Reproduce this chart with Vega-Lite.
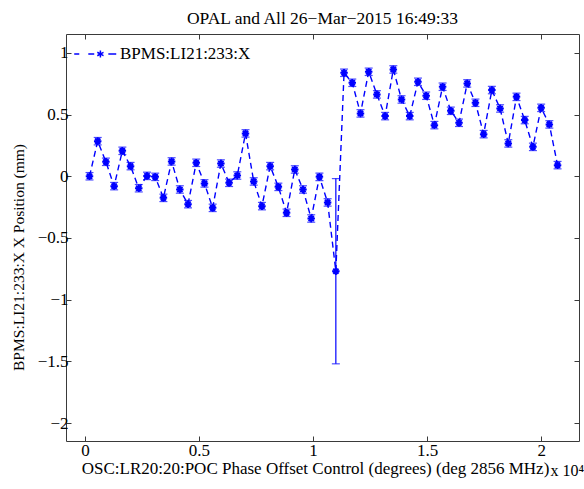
{
  "$schema": "https://vega.github.io/schema/vega-lite/v6.json",
  "width": 513,
  "height": 407,
  "autosize": {"type": "none"},
  "padding": {"left": 66, "top": 34, "right": 5, "bottom": 48},
  "background": "#ffffff",
  "title": {"text": "OPAL and All 26−Mar−2015 16:49:33", "font": "Liberation Serif", "fontSize": 17.5, "fontWeight": "normal", "color": "#000000", "offset": 4, "anchor": "middle"},
  "config": {
    "view": {"stroke": "#3a3a3a", "strokeWidth": 1},
    "axis": {"grid": false, "domain": false, "tickColor": "#3a3a3a", "tickSize": -5, "labelFont": "Liberation Serif", "labelFontSize": 17, "labelColor": "#000000", "titleFont": "Liberation Serif", "titleFontSize": 17, "titleFontWeight": "normal", "titleColor": "#000000"}
  },
  "data": {"values": [
    {"phase": 200, "pos": 0.0, "err": 0.03},
    {"phase": 560, "pos": 0.284, "err": 0.03},
    {"phase": 920, "pos": 0.117, "err": 0.03},
    {"phase": 1280, "pos": -0.08, "err": 0.03},
    {"phase": 1640, "pos": 0.206, "err": 0.03},
    {"phase": 2000, "pos": 0.082, "err": 0.03},
    {"phase": 2360, "pos": -0.097, "err": 0.03},
    {"phase": 2720, "pos": 0.003, "err": 0.03},
    {"phase": 3080, "pos": -0.005, "err": 0.03},
    {"phase": 3440, "pos": -0.175, "err": 0.03},
    {"phase": 3800, "pos": 0.12, "err": 0.03},
    {"phase": 4160, "pos": -0.107, "err": 0.03},
    {"phase": 4520, "pos": -0.226, "err": 0.03},
    {"phase": 4880, "pos": 0.109, "err": 0.03},
    {"phase": 5240, "pos": -0.058, "err": 0.03},
    {"phase": 5600, "pos": -0.256, "err": 0.03},
    {"phase": 5960, "pos": 0.103, "err": 0.03},
    {"phase": 6320, "pos": -0.053, "err": 0.03},
    {"phase": 6680, "pos": 0.006, "err": 0.03},
    {"phase": 7040, "pos": 0.347, "err": 0.03},
    {"phase": 7400, "pos": -0.042, "err": 0.03},
    {"phase": 7760, "pos": -0.242, "err": 0.03},
    {"phase": 8120, "pos": 0.082, "err": 0.03},
    {"phase": 8480, "pos": -0.086, "err": 0.03},
    {"phase": 8840, "pos": -0.296, "err": 0.03},
    {"phase": 9200, "pos": 0.055, "err": 0.03},
    {"phase": 9560, "pos": -0.107, "err": 0.03},
    {"phase": 9920, "pos": -0.342, "err": 0.03},
    {"phase": 10280, "pos": -0.005, "err": 0.03},
    {"phase": 10640, "pos": -0.212, "err": 0.03},
    {"phase": 11000, "pos": -0.769, "err": 0.75},
    {"phase": 11360, "pos": 0.838, "err": 0.03},
    {"phase": 11720, "pos": 0.757, "err": 0.03},
    {"phase": 12080, "pos": 0.509, "err": 0.03},
    {"phase": 12440, "pos": 0.846, "err": 0.03},
    {"phase": 12800, "pos": 0.663, "err": 0.03},
    {"phase": 13160, "pos": 0.487, "err": 0.03},
    {"phase": 13520, "pos": 0.865, "err": 0.03},
    {"phase": 13880, "pos": 0.622, "err": 0.03},
    {"phase": 14240, "pos": 0.487, "err": 0.03},
    {"phase": 14600, "pos": 0.765, "err": 0.03},
    {"phase": 14960, "pos": 0.652, "err": 0.03},
    {"phase": 15320, "pos": 0.414, "err": 0.03},
    {"phase": 15680, "pos": 0.725, "err": 0.03},
    {"phase": 16040, "pos": 0.53, "err": 0.03},
    {"phase": 16400, "pos": 0.433, "err": 0.03},
    {"phase": 16760, "pos": 0.752, "err": 0.03},
    {"phase": 17120, "pos": 0.595, "err": 0.03},
    {"phase": 17480, "pos": 0.341, "err": 0.03},
    {"phase": 17840, "pos": 0.698, "err": 0.03},
    {"phase": 18200, "pos": 0.549, "err": 0.03},
    {"phase": 18560, "pos": 0.266, "err": 0.03},
    {"phase": 18920, "pos": 0.643, "err": 0.03},
    {"phase": 19280, "pos": 0.455, "err": 0.03},
    {"phase": 19640, "pos": 0.238, "err": 0.03},
    {"phase": 20000, "pos": 0.554, "err": 0.03},
    {"phase": 20360, "pos": 0.42, "err": 0.03},
    {"phase": 20720, "pos": 0.09, "err": 0.03}
  ]},
  "resolve": {"axis": {"x": "independent", "y": "independent"}},
  "layer": [
    {
      "mark": {"type": "line", "strokeDash": [6, 4], "strokeWidth": 1.4, "color": "#0000ff"},
      "encoding": {
        "x": {"field": "phase", "type": "quantitative", "scale": {"domain": [-830, 21660], "nice": false, "zero": false},
              "axis": {"orient": "bottom", "values": [0, 5000, 10000, 15000, 20000], "labelExpr": "format(datum.value/10000, '~g')", "labelBaseline": "alphabetic", "labelPadding": 19, "title": "OSC:LR20:20:POC Phase Offset Control (degrees) (deg 2856 MHz)", "titleBaseline": "alphabetic", "titleX": 249, "titleY": 32, "titleAlign": "center"}},
        "y": {"field": "pos", "type": "quantitative", "scale": {"domain": [-2.144, 1.152], "nice": false, "zero": false},
              "axis": {"orient": "left", "values": [-2, -1.5, -1, -0.5, 0, 0.5, 1], "format": "~g", "labelPadding": 3, "title": "BPMS:LI21:233:X X Position (mm)", "titleFontSize": 15.5, "titleBaseline": "middle", "titleAlign": "center", "titleAngle": -90, "titleX": -48, "titleY": 223}},
        "color": {"datum": "BPMS:LI21:233:X", "type": "nominal", "scale": {"range": ["#0000ff"]},
                  "legend": {"orient": "none", "legendX": 7, "legendY": -3, "title": null, "padding": 0,
                             "symbolType": "M-0.99,0H-0.76M-0.35,0H-0.08M0.2,-0.16V0.16M0.06,-0.08L0.34,0.08M0.06,0.08L0.34,-0.08M0.56,0H0.92",
                             "symbolSize": 1936, "symbolStrokeWidth": 1.5, "symbolStrokeColor": "#0000ff", "symbolFillColor": "transparent", "symbolDash": [1, 0],
                             "labelFont": "Liberation Serif", "labelFontSize": 17, "labelColor": "#000000", "labelOffset": 1}}
      }
    },
    {
      "mark": {"type": "errorbar", "ticks": {"size": 8}, "color": "#0000ff", "thickness": 1.2},
      "encoding": {
        "x": {"field": "phase", "type": "quantitative", "axis": null},
        "y": {"field": "pos", "type": "quantitative", "axis": null},
        "yError": {"field": "err"}
      }
    },
    {
      "mark": {"type": "point", "shape": "M-1,0L1,0M0,-1L0,1M-0.7,-0.7L0.7,0.7M-0.7,0.7L0.7,-0.7", "size": 56, "filled": false, "color": "#0000ff", "strokeWidth": 2, "opacity": 1},
      "encoding": {
        "x": {"field": "phase", "type": "quantitative", "axis": {"orient": "top", "values": [0, 5000, 10000, 15000, 20000], "labels": false, "title": null}},
        "y": {"field": "pos", "type": "quantitative", "axis": {"orient": "right", "values": [-2, -1.5, -1, -0.5, 0, 0.5, 1], "labels": false, "title": null}}
      }
    },
    {
      "data": {"values": [{"t": "x 10⁴"}]},
      "mark": {"type": "text", "align": "right", "baseline": "top", "font": "Liberation Serif", "fontSize": 16, "color": "#000000", "dx": 5, "dy": 22},
      "encoding": {
        "x": {"datum": 21660, "type": "quantitative", "axis": null},
        "y": {"datum": -2.144, "type": "quantitative", "axis": null},
        "text": {"field": "t"}
      }
    }
  ]
}
